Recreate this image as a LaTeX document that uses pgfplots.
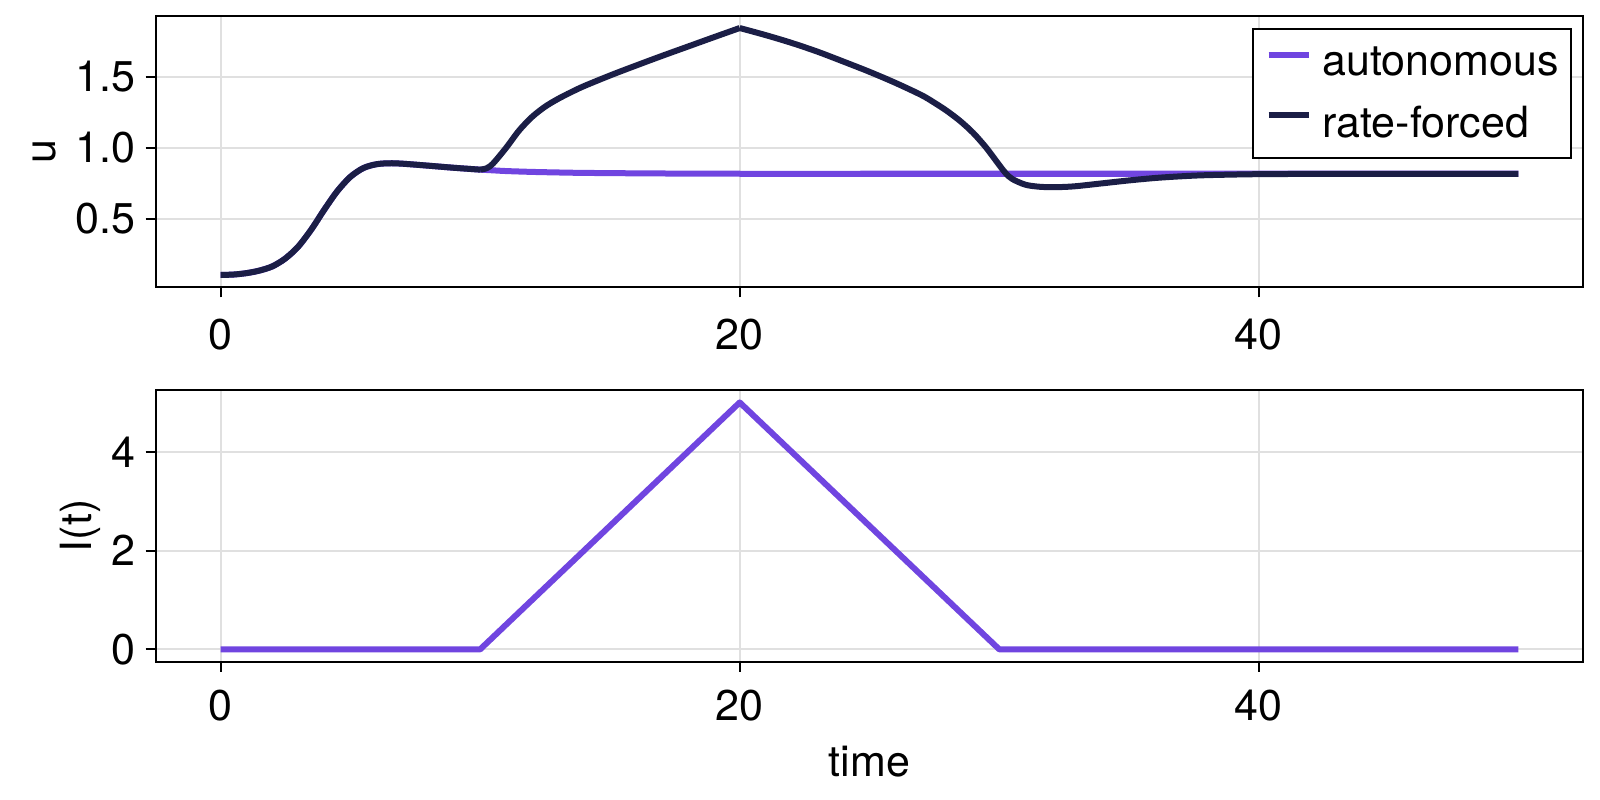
\documentclass[border=0pt]{standalone}
\usepackage{fontspec}
\setmainfont{TeX Gyre Heros}
\usepackage{pgfplots}
\pgfplotsset{compat=1.18}

\definecolor{autoc}{RGB}{112,69,224}
\definecolor{forcedc}{RGB}{27,30,70}
\definecolor{gridc}{RGB}{224,224,224}
\newcommand{\fs}{\fontsize{21.5bp}{25.8bp}\selectfont}

\pgfplotstableread{
t u
0 0.103
0.5 0.106
1 0.116
1.5 0.134
2 0.164
2.5 0.22
3 0.305
3.5 0.425
4 0.565
4.5 0.695
5 0.795
5.5 0.857
6 0.884
6.5 0.891
7 0.888
8 0.874
9 0.859
10 0.846
10.5 0.841
11 0.836
12 0.830
13 0.826
14 0.823
16 0.820
18 0.818
20 0.817
25 0.817
50 0.817
}\autonomous

\pgfplotstableread{
t u
0 0.103
0.5 0.106
1 0.116
1.5 0.134
2 0.164
2.5 0.22
3 0.305
3.5 0.425
4 0.565
4.5 0.695
5 0.795
5.5 0.857
6 0.884
6.5 0.891
7 0.888
8 0.874
9 0.859
10 0.846
10.25 0.856
10.5 0.89
11 1.0
11.5 1.122
12 1.218
12.5 1.29
13 1.345
13.5 1.392
14 1.435
15 1.51
16 1.58
17 1.648
18 1.714
19 1.78
20 1.845
21 1.795
22 1.740
23 1.678
24 1.608
25 1.536
26 1.458
27 1.372
27.5 1.318
28 1.258
28.5 1.188
29 1.104
29.5 1.0
30 0.878
30.25 0.82
30.5 0.78
31 0.74
31.5 0.726
32 0.722
32.5 0.724
33 0.73
34 0.75
35 0.77
36 0.787
37 0.799
38 0.807
40 0.814
43 0.816
50 0.817
}\forced

\pgfplotstableread{
t I
0 0
10 0
20 5
30 0
50 0
}\forcing

\pgfplotsset{
  panel/.style={
    scale only axis, width=713.8bp, height=135.8bp,
    xmin=-2.5, xmax=52.5, xtick={0,20,40},
    axis line style={black, line width=1bp},
    tick align=outside, major tick length=5bp,
    every tick/.style={black, line width=1bp},
    xtick pos=bottom, ytick pos=left,
    grid=major, major grid style={gridc, line width=1bp},
    tick label style={font=\fs},
    label style={font=\fs},
    /pgf/number format/assume math mode=true,
    yticklabel style={anchor=east, inner sep=0pt, xshift=-5bp},
    every axis plot/.append style={line width=3bp, line join=round},
  }
}

\begin{document}
\begin{tikzpicture}
\useasboundingbox (0,0) rectangle (800bp,400bp);

\begin{axis}[panel,
  at={(77.85bp,256.35bp)}, anchor=south west,
  ymin=0.016, ymax=1.932, ytick={0.5,1.0,1.5},
  yticklabel style={/pgf/number format/.cd, fixed, fixed zerofill, precision=1},
  xticklabel style={anchor=north, inner sep=0pt, yshift=-10.5bp},
  ylabel={u},
  every axis y label/.style={at={(axis description cs:-0.0705,0.5)}, rotate=90, anchor=base, inner sep=0pt, font=\fs},
  legend cell align=left,
  legend style={at={(1,1)}, anchor=north east, xshift=-5.5bp, yshift=-6.15bp,
    draw=black, line width=1bp, font=\fs,
    inner xsep=6.3bp, inner ysep=9bp, row sep=13.6bp,
    nodes={inner sep=0pt},
    /tikz/every odd column/.append style={column sep=5.5bp}},
  legend image code/.code={\draw[#1, line width=3bp] (0bp,4bp) -- (20bp,4bp);},
]
\addplot[autoc, smooth, tension=0.5] table[x=t, y=u] {\autonomous};
\addlegendentry{autonomous}
\addplot[forcedc, smooth, tension=0.5, forget plot, restrict x to domain=0:10] table[x=t, y=u] {\forced};
\addplot[forcedc, smooth, tension=0.5, forget plot, restrict x to domain=10:20] table[x=t, y=u] {\forced};
\addplot[forcedc, smooth, tension=0.5, restrict x to domain=20:50] table[x=t, y=u] {\forced};
\addlegendentry{rate-forced}
\end{axis}

\begin{axis}[panel,
  at={(77.85bp,69.15bp)}, anchor=south west,
  ymin=-0.25, ymax=5.25, ytick={0,2,4},
  xticklabel style={anchor=north, inner sep=0pt, yshift=-9.2bp},
  ylabel={I(t)},
  every axis y label/.style={at={(axis description cs:-0.0449,0.5)}, rotate=90, anchor=base, inner sep=0pt, font=\fs},
  xlabel={time},
  xlabel style={at={(axis description cs:0.5,0)}, anchor=base, yshift=-57.5bp},
]
\addplot[autoc] table[x=t, y=I] {\forcing};
\end{axis}
\end{tikzpicture}
\end{document}
